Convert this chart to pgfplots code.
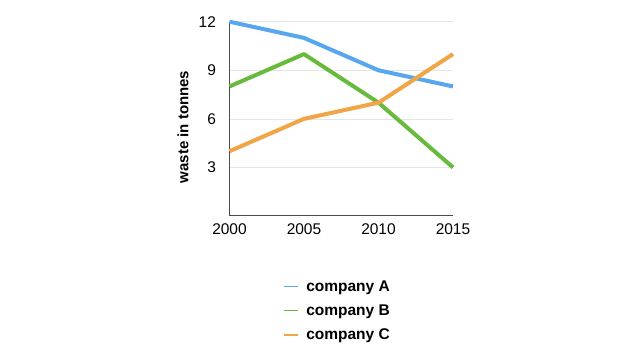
\documentclass[border=0pt]{standalone}
\usepackage{pgfplots}
\pgfplotsset{compat=1.18}
\usepackage{fontspec}
\setmainfont{Liberation Sans}
\definecolor{cA}{RGB}{88,166,238}
\definecolor{cB}{RGB}{104,186,60}
\definecolor{cC}{RGB}{240,165,70}
\begin{document}
\begin{tikzpicture}[x=1pt,y=1pt]
\useasboundingbox[fill=white] (0,0) rectangle (640,358);
\begin{axis}[
  scale only axis, width=223.5pt, height=194.3pt,
  at={(229.5pt,142pt)}, anchor=south west,
  xmin=2000, xmax=2015, ymin=0, ymax=12,
  xtick={2000,2005,2010,2015}, ytick={3,6,9,12},
  xticklabel style={/pgf/number format/1000 sep={}},
  /pgf/number format/assume math mode=true,
  tick label style={font=\fontsize{15.5}{18}\selectfont, text=black},
  major tick length=0pt,
  axis x line*=bottom, axis y line*=left,
  axis line style={draw=black!70, line width=1pt},
  ymajorgrids, grid style={draw=black!10, line width=0.6pt},
  xticklabel shift=4pt, yticklabel shift=10pt,
  ylabel={\bfseries waste in tonnes},
  ylabel style={font=\fontsize{15}{18}\selectfont, at={(axis description cs:-0.208,0.458)}, anchor=center},
  clip=false,
  legend style={at={(axis description cs:0.24,-0.325)}, anchor=north west, draw=none, fill=none,
    font=\fontsize{15.5}{18}\selectfont\bfseries, row sep=10pt, inner sep=0pt,
    nodes={inner sep=1pt, anchor=west}},
  legend cell align=left,
  legend image code/.code={\draw[#1, line width=1.8pt, line cap=butt] (0pt,0pt) -- (14pt,0pt); \path[draw=none, fill=none] (21pt,0pt) circle (0.01pt);},
]
\addplot[cA, line width=4pt, line join=round] coordinates {(2000,12) (2005,11) (2010,9) (2015,8)};
\addlegendentry{company A}
\addplot[cB, line width=4pt, line join=round] coordinates {(2000,8) (2005,10) (2010,7) (2015,3)};
\addlegendentry{company B}
\addplot[cC, line width=4pt, line join=round] coordinates {(2000,4) (2005,6) (2010,7) (2015,10)};
\addlegendentry{company C}
\end{axis}
\end{tikzpicture}
\end{document}
